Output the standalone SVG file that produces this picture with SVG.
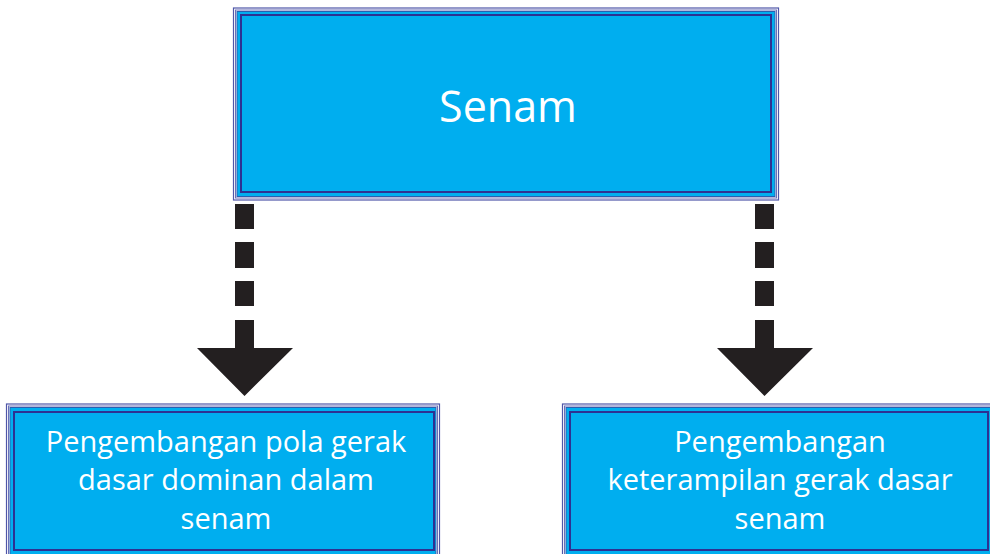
<svg xmlns="http://www.w3.org/2000/svg" width="990" height="554" viewBox="0 0 990 554">
<style>
.o{fill:#ffffff;stroke:#4f56a8;stroke-width:1.2}
.o2{fill:none;stroke:#6a6fb8;stroke-width:1}
.f{fill:#00aeef;stroke:#2a5fb0;stroke-width:1}
.d{fill:none;stroke:#2e3192;stroke-width:2}
.t{font-family:"Open Sans","Liberation Sans",sans-serif;fill:#ffffff;text-anchor:middle}
.a{fill:#231f20}
</style>
<rect width="990" height="554" fill="#ffffff"/>
<g id="senam">
<rect class="o" x="233.5" y="8" width="545" height="192"/>
<rect class="o2" x="235.5" y="10" width="541" height="188"/>
<rect class="f" x="237" y="11.5" width="538" height="185"/>
<rect class="d" x="241" y="15" width="530" height="177"/>
<text class="t" x="508" y="122" font-size="43">Senam</text>
</g>
<g id="pola">
<rect class="o" x="6.5" y="404" width="433" height="160"/>
<rect class="o2" x="8.5" y="406" width="429" height="156"/>
<rect class="f" x="10" y="407.5" width="426" height="152"/>
<rect class="d" x="14" y="412" width="420" height="138"/>
<text class="t" font-size="29"><tspan x="226" y="452">Pengembangan pola gerak</tspan><tspan x="226" y="490">dasar dominan dalam</tspan><tspan x="226" y="529">senam</tspan></text>
</g>
<g id="keterampilan">
<rect class="o" x="562.5" y="404" width="440" height="160"/>
<rect class="o2" x="564.5" y="406" width="436" height="156"/>
<rect class="f" x="566" y="407.5" width="433" height="152"/>
<rect class="d" x="570" y="412" width="418" height="138"/>
<text class="t" font-size="29"><tspan x="780" y="452">Pengembangan</tspan><tspan x="780" y="490">keterampilan gerak dasar</tspan><tspan x="780" y="529">senam</tspan></text>
</g>
<g id="connectors">
<g class="a">
<rect x="235" y="204" width="19" height="25"/>
<rect x="235" y="242" width="19" height="26"/>
<rect x="235" y="281" width="19" height="25"/>
<polygon points="235,320 254,320 254,348 293,348 244.5,396 197,348 235,348"/>
<rect x="755" y="204" width="19" height="25"/>
<rect x="755" y="242" width="19" height="26"/>
<rect x="755" y="281" width="19" height="25"/>
<polygon points="755,320 774,320 774,348 813,348 764.5,396 717,348 755,348"/>
</g>
</g>
</svg>
